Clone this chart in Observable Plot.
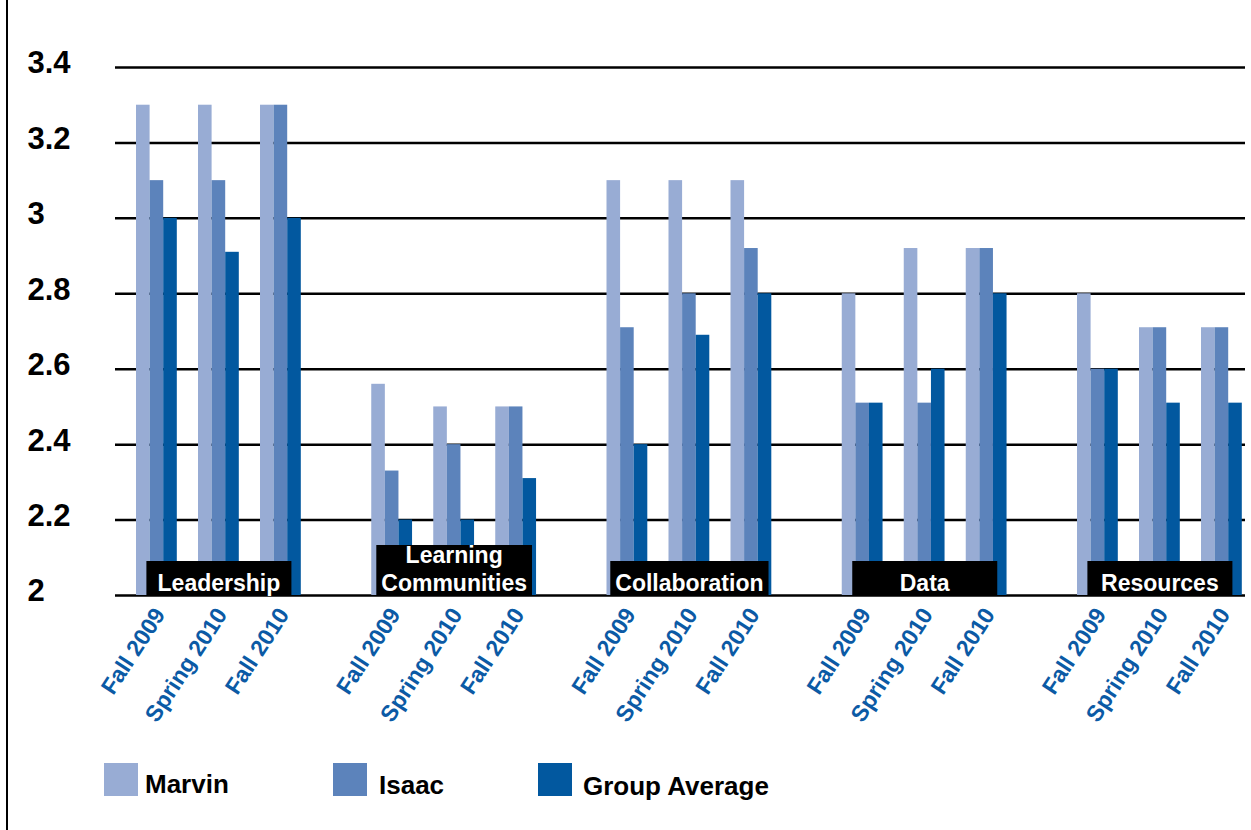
<!DOCTYPE html>
<html>
<head>
<meta charset="utf-8">
<script src="https://cdn.jsdelivr.net/npm/d3@7"></script>
<script src="https://cdn.jsdelivr.net/npm/@observablehq/plot@0.6"></script>
<style>
  html, body { margin: 0; padding: 0; background: #fff; overflow: hidden; }
  #wrap { position: relative; width: 1251px; height: 830px; font-family: "Liberation Sans", Arial, sans-serif; }
  #wrap .layer { position: absolute; left: 0; top: 0; }
  #border { position: absolute; left: 6px; top: 0; width: 2px; height: 830px; background: #000; }
  .lg-sw { position: absolute; width: 34px; height: 33px; }
  .lg-tx { position: absolute; font-size: 26px; font-weight: bold; line-height: 26px; color: #000; white-space: nowrap; }
</style>
</head>
<body>
<div id="wrap">
  <div id="border"></div>
</div>
<script>
// ---- data ----
const categories = ["Leadership", "Learning Communities", "Collaboration", "Data", "Resources"];
const categoryLabels = ["Leadership", "Learning\nCommunities", "Collaboration", "Data", "Resources"];
const periods = ["Fall 2009", "Spring 2010", "Fall 2010"];
const marvin   = [3.30, 3.30, 3.30,  2.56, 2.50, 2.50,  3.10, 3.10, 3.10,  2.80, 2.92, 2.92,  2.80, 2.71, 2.71];
const isaac    = [3.10, 3.10, 3.30,  2.33, 2.40, 2.50,  2.71, 2.80, 2.92,  2.51, 2.51, 2.92,  2.60, 2.71, 2.71];
const groupAvg = [3.00, 2.91, 3.00,  2.20, 2.20, 2.31,  2.40, 2.69, 2.80,  2.51, 2.60, 2.80,  2.60, 2.51, 2.51];
const yTicks = [2, 2.2, 2.4, 2.6, 2.8, 3, 3.2, 3.4];
const seriesNames = ["Marvin", "Isaac", "Group Average"];
const seriesColors = ["#98acd4", "#5c83bb", "#02589f"];

const rows = [];
categories.forEach((c, i) => periods.forEach((p, j) => {
  const k = i * periods.length + j;
  rows.push({category: c, period: p, marvin: marvin[k], isaac: isaac[k], groupAvg: groupAvg[k]});
}));

// ---- layout ----
const W = 1251, H = 740, MT = 67, MB = 145;
const FONT = "Liberation Sans, Arial, sans-serif";
const BW = 13.6; // width of one bar

const wrap = document.getElementById("wrap");

// background: gridlines + y labels
const bg = Plot.plot({
  width: W, height: H, marginLeft: 115, marginRight: 6, marginTop: MT, marginBottom: MB,
  style: {fontFamily: FONT, background: "transparent"},
  y: {domain: [2, 3.4], axis: null},
  marks: [
    Plot.ruleY(yTicks, {stroke: "#000", strokeWidth: 2.5}),
    Plot.text(yTicks, {y: d => d, text: d => String(d), frameAnchor: "left", textAnchor: "start",
      dx: -88, dy: -4, fontSize: 31, fontWeight: "bold", fill: "#000"})
  ]
});
bg.classList.add("layer");
wrap.appendChild(bg);

// foreground: bars faceted by category
const fg = Plot.plot({
  width: W, height: H, marginLeft: 130.4, marginRight: 3.6, marginTop: MT, marginBottom: MB,
  style: {fontFamily: FONT, background: "transparent"},
  fx: {domain: categories, axis: null, paddingInner: 0.25186, paddingOuter: 0, round: false},
  x: {domain: periods, paddingInner: 0.7806, paddingOuter: 0.30966, round: false, label: null},
  y: {domain: [2, 3.4], axis: null},
  marks: [
    Plot.barY(rows, {fx: "category", x: "period", y1: () => 2, y2: "marvin", fill: seriesColors[0], dx: -BW}),
    Plot.barY(rows, {fx: "category", x: "period", y1: () => 2, y2: "isaac", fill: seriesColors[1]}),
    Plot.barY(rows, {fx: "category", x: "period", y1: () => 2, y2: "groupAvg", fill: seriesColors[2], dx: BW}),
    Plot.axisX({tickRotate: -57, tickSize: 0, tickPadding: 15, dx: 3, fontSize: 23, fontWeight: "bold",
      color: "#0b5aa5", label: null}),
    Plot.text(categories, {fx: d => d, x: () => periods[1], y: () => 2,
      text: (d, i) => categoryLabels[i], lineAnchor: "bottom", lineHeight: 1.2, dy: -5,
      fontSize: 23, fontWeight: "bold", fill: "#fff", ariaDescription: "category labels"})
  ]
});
fg.classList.add("layer");
wrap.appendChild(fg);

// black boxes behind category labels
let labelTexts = Array.from(fg.querySelectorAll('g[aria-description="category labels"] text'));
if (!labelTexts.length) {
  labelTexts = Array.from(fg.querySelectorAll("text")).filter(t => {
    const f = (t.getAttribute("fill") || (t.parentNode && t.parentNode.getAttribute("fill")) || "").toLowerCase();
    return f === "#fff" || f === "white";
  });
}
const yAxisPos = fg.scale("y").apply(2);
const rootInv = fg.getScreenCTM().inverse();
labelTexts.forEach(t => {
  const bb = t.getBBox();
  const mt = rootInv.multiply(t.getScreenCTM());
  const mp = rootInv.multiply(t.parentNode.getScreenCTM());
  const cxRoot = bb.x + bb.width / 2 + mt.e;
  const lines = Math.max(1, t.querySelectorAll("tspan").length);
  const w = Math.max(145, bb.width + 10);
  const h = 34 + 16 * (lines - 1);
  const r = document.createElementNS("http://www.w3.org/2000/svg", "rect");
  r.setAttribute("x", cxRoot - w / 2 - mp.e);
  r.setAttribute("y", yAxisPos - h - mp.f);
  r.setAttribute("width", w);
  r.setAttribute("height", h);
  r.setAttribute("fill", "#000");
  t.parentNode.insertBefore(r, t);
});

// legend
const legendPos = [
  {sx: 104, sy: 763, tx: 145, ty: 771},
  {sx: 333, sy: 763, tx: 379, ty: 772},
  {sx: 538, sy: 763, tx: 583, ty: 773}
];
seriesNames.forEach((name, i) => {
  const p = legendPos[i];
  const sw = document.createElement("div");
  sw.className = "lg-sw";
  sw.style.left = p.sx + "px"; sw.style.top = p.sy + "px"; sw.style.background = seriesColors[i];
  wrap.appendChild(sw);
  const tx = document.createElement("div");
  tx.className = "lg-tx";
  tx.style.left = p.tx + "px"; tx.style.top = p.ty + "px";
  tx.textContent = name;
  wrap.appendChild(tx);
});
</script>
</body>
</html>
